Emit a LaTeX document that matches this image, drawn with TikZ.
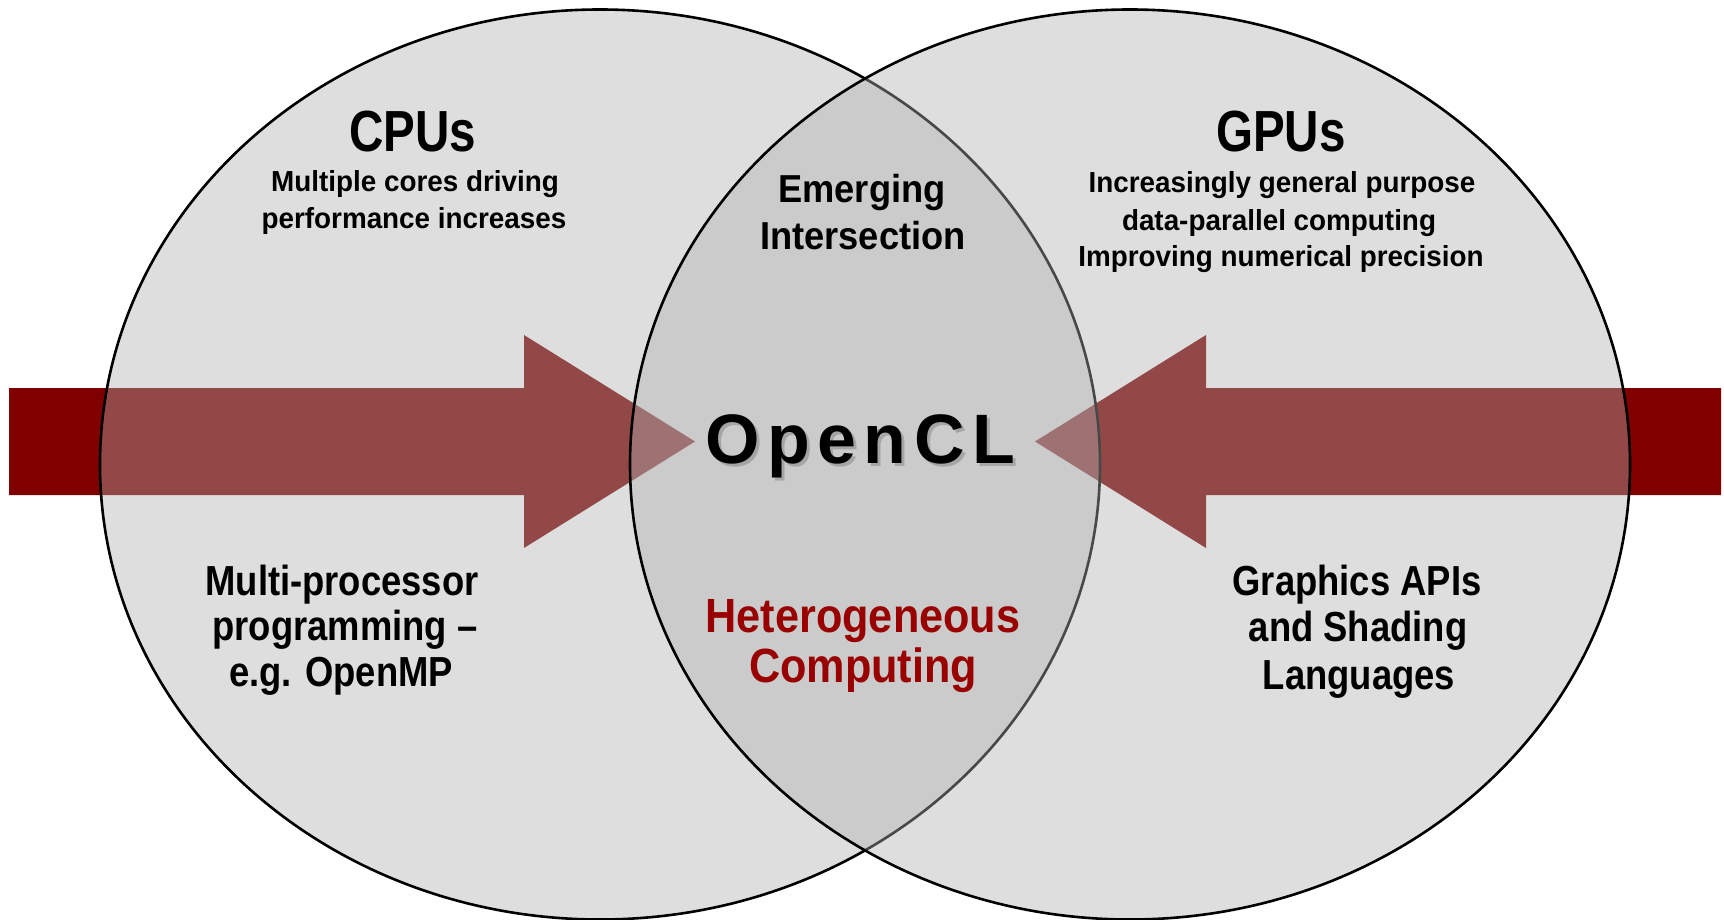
\documentclass[tikz,border=0pt]{standalone}
\usepackage{fontspec}
\newfontfamily\fTitle{Liberation Sans}[FakeStretch=0.82]
\newfontfamily\fSmall{Liberation Sans}[FakeStretch=0.96]
\newfontfamily\fMid{Liberation Sans}[FakeStretch=0.93]
\newfontfamily\fBody{Liberation Sans}[FakeStretch=0.867]
\newfontfamily\fHet{Liberation Sans}[FakeStretch=0.90]
\newfontfamily\fOpen{Liberation Sans}
\definecolor{arrowred}{RGB}{128,0,0}
\definecolor{circfill}{RGB}{176,176,176}
\definecolor{hetred}{RGB}{153,0,0}
\definecolor{shadowgray}{RGB}{165,165,165}
\newcommand\opencltxt{O\kern7.5pt p\kern7.5pt e\kern7.5pt n\kern7.5pt C\kern7.5pt L}
\newcommand\openclshadowed{\rlap{\kern3pt\raisebox{-3.5pt}{\color{shadowgray}\opencltxt}}\opencltxt}
\begin{document}
\begin{tikzpicture}[x=1pt,y=-1pt,
  venn/.style={fill=circfill, fill opacity=0.41, draw=black, line width=2.6pt},
  bigarrow/.style={fill=arrowred, draw=none},
  lbl/.style={anchor=base, inner sep=0pt, text=black},
  titlefont/.style={font=\fTitle\bfseries\fontsize{58pt}{60pt}\selectfont},
  smallfont/.style={font=\fSmall\bfseries\fontsize{29pt}{31pt}\selectfont},
  midfont/.style={font=\fMid\bfseries\fontsize{39pt}{41pt}\selectfont},
  bodyfont/.style={font=\fBody\bfseries\fontsize{42pt}{44pt}\selectfont},
  hetfont/.style={font=\fHet\bfseries\fontsize{48pt}{50pt}\selectfont, text=hetred},
  openfont/.style={font=\fOpen\bfseries\fontsize{70pt}{72pt}\selectfont}]
\useasboundingbox (0,0) rectangle (1724,920);
\fill[white] (0,0) rectangle (1724,920);
% arrows
\fill[bigarrow] (9,388) -- (524,388) -- (524,335) -- (695,441.5) -- (524,548) -- (524,495) -- (9,495) -- cycle;
\fill[bigarrow] (1721,388) -- (1206,388) -- (1206,335) -- (1035,441.5) -- (1206,548) -- (1206,495) -- (1721,495) -- cycle;
% circles
\path[venn] (600,464.5) ellipse [x radius=500pt, y radius=455pt];
\path[venn] (1130,464.5) ellipse [x radius=500pt, y radius=455pt];
% CPU texts
\node[lbl, titlefont] (cpus) at (413,152) {CPUs};
\node[lbl, smallfont] (cpu1) at (415,192) {Multiple cores driving};
\node[lbl, smallfont] (cpu2) at (414,229) {performance increases};
% GPU texts
\node[lbl, titlefont] (gpus) at (1281,152) {GPUs};
\node[lbl, smallfont] (gpu1) at (1282,193) {Increasingly general purpose};
\node[lbl, smallfont] (gpu2) at (1279,230) {data-parallel computing};
\node[lbl, smallfont] (gpu3) at (1281,266) {Improving numerical precision};
% intersection
\node[lbl, midfont] (emerg1) at (862,203) {Emerging};
\node[lbl, midfont] (emerg2) at (863,250) {Intersection};
\node[lbl, openfont] (opencl) at (860,463) {\openclshadowed};
\node[lbl, hetfont] (het1) at (863,632) {Heterogeneous};
\node[lbl, hetfont] (het2) at (863,682) {Computing};
% bottom texts
\node[lbl, bodyfont] (mp1) at (342,595) {Multi-processor};
\node[lbl, bodyfont] (mp2) at (345,640) {programming –};
\node[lbl, bodyfont] (mp3) at (341,686) {e.g. OpenMP};
\node[lbl, bodyfont] (gr1) at (1357,595) {Graphics APIs};
\node[lbl, bodyfont] (gr2) at (1358,641) {and Shading};
\node[lbl, bodyfont] (gr3) at (1359,689) {Languages};
\end{tikzpicture}
\end{document}
